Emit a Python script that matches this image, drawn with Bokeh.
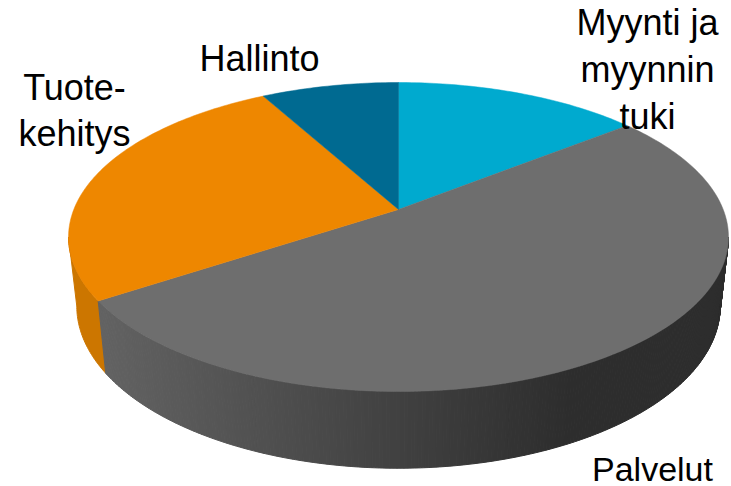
import numpy as np
from bokeh.plotting import figure
from bokeh.embed import file_html
from bokeh.resources import INLINE
from bokeh.models import Range1d
from bokeh.core.properties import value

# data (clockwise from twelve o'clock)
categories = ["Myynti ja\nmyynnin\ntuki", "Palvelut", "Tuote-\nkehitys", "Hallinto"]
shares = [14.3, 51.4, 26.3, 8.0]
top_colors = ["#00AACF", "#6E6E6E", "#EE8700", "#006A91"]
orange_wall = "#CC7600"

label_x = [647, 652, 74, 259]
label_y = [69, 468, 110, 58]
label_size = ["36px", "34px", "36px", "36px"]

W, H = 731, 486
p = figure(width=W, height=H, output_backend="svg", toolbar_location=None,
           x_range=Range1d(0, W), y_range=Range1d(H, 0),
           min_border=0, outline_line_color=None, border_fill_color=None,
           background_fill_color=None)
p.axis.visible = False
p.grid.visible = False

K = 0.178


def top(theta):
    """Perspective projection of the pie's top circle; theta clockwise from north."""
    u, v = np.sin(theta), np.cos(theta)
    d = 1 + K * v
    return 398 + 324.7 * u / d, 209 - 149.6 * v / d


def bottom(theta):
    x, y = top(theta)
    return 398 + (x - 398) * 0.975, 305 + (y - 236) * 1.05


edges = np.concatenate([[0], np.cumsum(shares)]) / np.sum(shares) * 2 * np.pi

# side wall of Tuotekehitys: up to the pie's left silhouette
a0, a1 = edges[2], np.pi + np.arccos(K)
ths = np.linspace(a0, a1, 40)
x1, y1 = top(ths)
x2, y2 = bottom(ths)
p.patch(np.r_[x1, x2[::-1]], np.r_[y1, y2[::-1]], fill_color=orange_wall,
        line_color=orange_wall, line_width=1)

# side wall of Palvelut, shaded from left to right, from the right silhouette on
a0, a1 = np.arccos(-K), edges[2]
ths = np.linspace(a1, a0, 260)
xs, ys, cols = [], [], []
for t0, t1 in zip(ths[:-1], ths[1:]):
    xa, ya = top(np.array([t0, t1]))
    xb, yb = bottom(np.array([t1, t0]))
    xm = (xa.mean() + xb.mean()) / 2
    f = np.clip((xm - 105) / (570 - 105), 0, 1)
    g = int(round(0x62 + (0x2D - 0x62) * f))
    xs.append(list(np.r_[xa, xb]))
    ys.append(list(np.r_[ya, yb]))
    cols.append(f"#{g:02x}{g:02x}{g:02x}")
p.patches(xs, ys, fill_color=cols, line_color=cols, line_width=1)

# top faces
for i, col in enumerate(top_colors):
    n = max(int(shares[i] * 4), 8)
    ths = np.linspace(edges[i], edges[i + 1], n)
    x, y = top(ths)
    p.patch(np.r_[398, x], np.r_[209, y], fill_color=col, line_color=col, line_width=0.5)

# labels
for cat, lx, ly, size in zip(categories, label_x, label_y, label_size):
    p.text([lx], [ly], text=[cat], text_font=value("Liberation Sans"),
           text_font_size=value(size), text_color="#000000", text_align="center",
           text_baseline="middle", text_line_height=1.14)

open("out.html", "w").write(file_html(p, INLINE))
